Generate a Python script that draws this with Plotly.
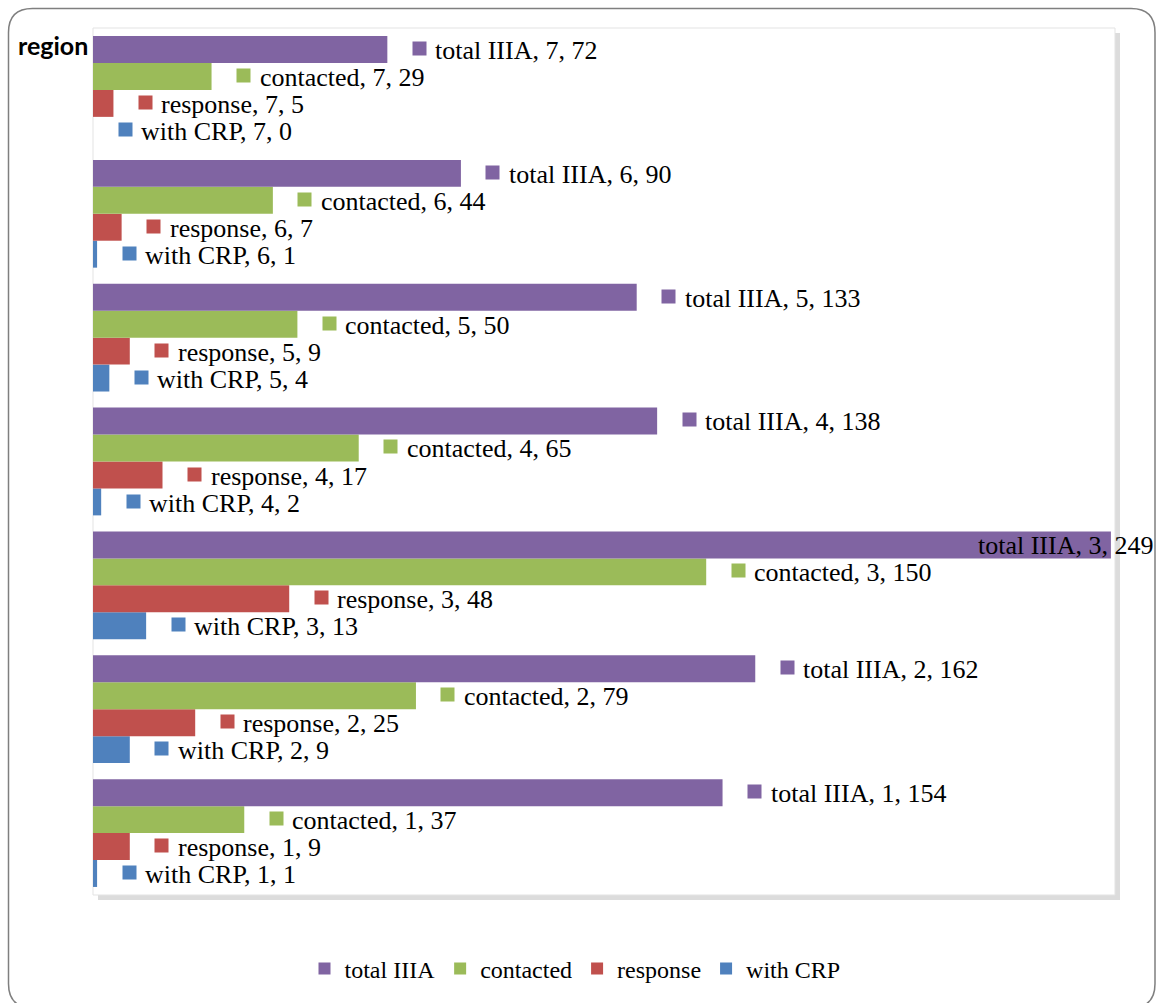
import plotly.graph_objects as go

regions = ["1", "2", "3", "4", "5", "6", "7"]
series_names = ["total IIIA", "contacted", "response", "with CRP"]
total_iiia = [154, 162, 249, 138, 133, 90, 72]
contacted = [37, 79, 150, 65, 50, 44, 29]
response = [9, 25, 48, 17, 9, 7, 5]
with_crp = [1, 9, 13, 2, 4, 1, 0]
colors = ["#8064A2", "#9BBB59", "#C0504D", "#4F81BD"]

series_values = [total_iiia, contacted, response, with_crp]

W, H = 1156, 1003
ML, MR, MT, MB = 93, 41, 28, 106
PW, PH = W - ML - MR, H - MT - MB
XMAX = 250
BARGAP = 0.13
SERIF = "Liberation Serif, Times New Roman, serif"

def px_x(p):
    return (p - ML) / PW

def px_y(p):
    return (H - MB - p) / PH

fig = go.Figure()
# add bottom-most series first so that "total IIIA" sits on top of each group
for i in reversed(range(4)):
    fig.add_trace(go.Bar(
        y=regions, x=series_values[i], orientation="h", name=series_names[i],
        marker=dict(color=colors[i], line=dict(width=0)),
    ))

bar_px = PH / len(regions) * (1 - BARGAP) / 4
label_font = dict(family=SERIF, size=26, color="#000000")
annotations = []
for i in range(4):
    for k, (r, v) in enumerate(zip(regions, series_values[i])):
        yshift = (1.5 - i) * bar_px
        text = f"{series_names[i]}, {r}, {v}"
        if v / XMAX > 0.8:
            annotations.append(dict(x=v, y=k, xref="x", yref="y", text=text, showarrow=False,
                                    xanchor="right", yanchor="middle", xshift=44, yshift=yshift - 1,
                                    font=label_font))
            continue
        annotations.append(dict(x=v, y=k, xref="x", yref="y", text=" ", showarrow=False,
                                xanchor="center", yanchor="middle", xshift=32, yshift=yshift + 1,
                                width=13, height=13, bgcolor=colors[i], borderpad=0,
                                font=dict(size=4)))
        annotations.append(dict(x=v, y=k, xref="x", yref="y", text=text, showarrow=False,
                                xanchor="left", yanchor="middle", xshift=46, yshift=yshift - 1,
                                font=label_font))

annotations.append(dict(x=px_x(16), y=px_y(45), xref="paper", yref="paper", text="<b>region</b>",
                        showarrow=False, xanchor="left", yanchor="middle",
                        font=dict(family="Lato, Open Sans, sans-serif", size=25, color="#000000")))

# outer rounded frame
x0, y0, x1, y1, rad = 8.5, 8.5, 1155, 1010, 24
frame = (f"M {px_x(x0)},{px_y(y0 + rad)} Q {px_x(x0)},{px_y(y0)} {px_x(x0 + rad)},{px_y(y0)} "
         f"L {px_x(x1 - rad)},{px_y(y0)} Q {px_x(x1)},{px_y(y0)} {px_x(x1)},{px_y(y0 + rad)} "
         f"L {px_x(x1)},{px_y(y1 - rad)} Q {px_x(x1)},{px_y(y1)} {px_x(x1 - rad)},{px_y(y1)} "
         f"L {px_x(x0 + rad)},{px_y(y1)} Q {px_x(x0)},{px_y(y1)} {px_x(x0)},{px_y(y1 - rad)} Z")
shapes = [
    dict(type="path", path=frame, xref="paper", yref="paper", line=dict(color="#7f7f7f", width=1.5)),
    # plot area shadow
    dict(type="rect", xref="paper", yref="paper", x0=1.0, x1=px_x(W - MR + 5), y0=px_y(H - MB + 5), y1=px_y(MT + 5),
         fillcolor="#dcdcdc", line=dict(width=0), layer="below"),
    dict(type="rect", xref="paper", yref="paper", x0=px_x(ML + 5), x1=px_x(W - MR + 5), y0=px_y(H - MB + 5), y1=0,
         fillcolor="#dcdcdc", line=dict(width=0), layer="below"),
    dict(type="rect", xref="paper", yref="paper", x0=0, x1=1, y0=0, y1=1,
         line=dict(color="#e3e3e3", width=1), layer="below"),
]

fig.update_layout(
    width=W, height=H,
    margin=dict(l=ML, r=MR, t=MT, b=MB, pad=0),
    font=dict(family=SERIF, color="#000000"),
    barmode="group", bargap=BARGAP, bargroupgap=0,
    paper_bgcolor="#ffffff", plot_bgcolor="#ffffff",
    xaxis=dict(range=[0, XMAX], showgrid=False, zeroline=False, showticklabels=False,
               ticks="", showline=False, fixedrange=True),
    yaxis=dict(type="category", categoryorder="array", categoryarray=regions,
               showgrid=False, zeroline=False, showticklabels=False, ticks="", showline=False,
               fixedrange=True),
    showlegend=True,
    legend=dict(orientation="h", traceorder="reversed", x=px_x(575), y=px_y(971),
                xanchor="center", yanchor="middle",
                font=dict(family="Liberation Serif", size=24, color="#000000"),
                itemwidth=30, bgcolor="rgba(0,0,0,0)"),
    annotations=annotations,
    shapes=shapes,
)

fig.write_html("out.html")
